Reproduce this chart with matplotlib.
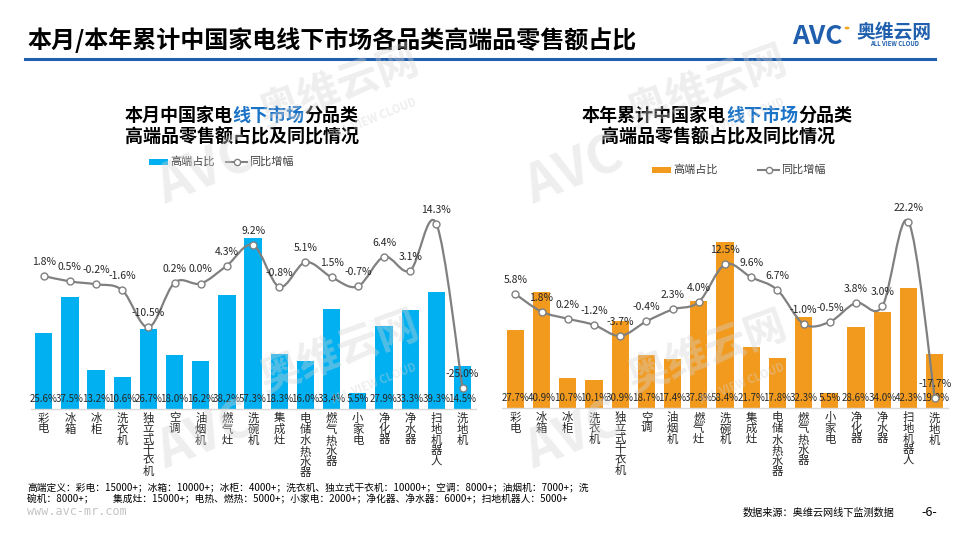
import numpy as np
import matplotlib
matplotlib.use('Agg')
import matplotlib.pyplot as plt
from matplotlib.path import Path
from matplotlib.patches import PathPatch, Rectangle, Circle
from matplotlib.lines import Line2D

plt.rcParams['font.family'] = ['Noto Sans CJK SC', 'DejaVu Sans']

# ---------------- data ----------------
categories = ['彩电', '冰箱', '冰柜', '洗衣机', '独立式干衣机', '空调', '油烟机', '燃气灶',
              '洗碗机', '集成灶', '电储水热水器', '燃气热水器', '小家电', '净化器', '净水器',
              '扫地机器人', '洗地机']
month_share = [25.6, 37.5, 13.2, 10.6, 26.7, 18.0, 16.2, 38.2, 57.3, 18.3, 16.0, 33.4, 5.5,
               27.9, 33.3, 39.3, 14.5]
month_yoy = [1.8, 0.5, -0.2, -1.6, -10.5, 0.2, 0.0, 4.3, 9.2, -0.8, 5.1, 1.5, -0.7, 6.4, 3.1,
             14.3, -25.0]
year_share = [27.7, 40.9, 10.7, 10.1, 30.9, 18.7, 17.4, 37.8, 58.4, 21.7, 17.8, 32.3, 5.5,
              28.6, 34.0, 42.3, 19.0]
year_yoy = [5.8, 1.8, 0.2, -1.2, -3.7, -0.4, 2.3, 4.0, 12.5, 9.6, 6.7, -1.0, -0.5, 3.8, 3.0,
            22.2, -17.7]
legend_labels = ['高端占比', '同比增幅']
main_title = '本月/本年累计中国家电线下市场各品类高端品零售额占比'
left_title = [('本月中国家电', '线下市场', '分品类'), '高端品零售额占比及同比情况']
right_title = [('本年累计中国家电', '线下市场', '分品类'), '高端品零售额占比及同比情况']
note_lines = ['高端定义：彩电：15000+；冰箱：10000+；冰柜：4000+；洗衣机、独立式干衣机：10000+；空调：8000+；油烟机：7000+；洗',
              '碗机：8000+；　　集成灶：15000+；电热、燃热：5000+；小家电：2000+；净化器、净水器：6000+；扫地机器人：5000+']
source_text = '数据来源：奥维云网线下监测数据'
page_text = '-6-'
site_text = 'www.avc-mr.com'

BLUE_BAR = '#00B0F0'
ORANGE_BAR = '#F29A1E'
LINE_GRAY = '#808080'
TITLE_BLUE = '#1a73c7'
LOGO_BLUE = '#1f5fad'

W, H = 960, 540
fig = plt.figure(figsize=(9.6, 5.4), dpi=100)


def fx(px):
    return px / W


def fy(py):
    return 1 - py / H


def smooth_path(x, y):
    x = np.asarray(x, float)
    y = np.asarray(y, float)
    n = len(x)
    verts = [(x[0], y[0])]
    codes = [Path.MOVETO]
    for i in range(n - 1):
        xp, yp = (x[i - 1], y[i - 1]) if i > 0 else (x[i], y[i])
        xn, yn = (x[i + 2], y[i + 2]) if i + 2 < n else (x[i + 1], y[i + 1])
        c1 = (x[i] + (x[i + 1] - xp) / 6, y[i] + (y[i + 1] - yp) / 6)
        c2 = (x[i + 1] - (xn - x[i]) / 6, y[i + 1] - (yn - y[i]) / 6)
        verts += [c1, c2, (x[i + 1], y[i + 1])]
        codes += [Path.CURVE4] * 3
    return Path(verts, codes)


def draw_chart(left_px, right_px, top_px, base_px, bar_scale, zero_px, line_scale,
               share, yoy, color):
    ax = fig.add_axes([fx(left_px), fy(base_px), (right_px - left_px) / W,
                       (base_px - top_px) / H])
    x = np.arange(len(categories))
    ax.bar(x, share, width=0.66, color=color, zorder=2)
    ax.set_xlim(-0.5, len(categories) - 0.5)
    ax.set_ylim(0, (base_px - top_px) / bar_scale)
    for s in ['top', 'right', 'left']:
        ax.spines[s].set_visible(False)
    ax.spines['bottom'].set_color('#d9d9d9')
    ax.spines['bottom'].set_linewidth(1.0)
    ax.set_yticks([])
    ax.set_xticks(x, ['\n'.join(c) for c in categories], fontsize=8.2, linespacing=1.0)
    ax.tick_params(axis='x', length=0, pad=3, colors='#262626')
    ax.patch.set_alpha(0)
    for xi, v in zip(x, share):
        ax.annotate(f'{v:.1f}%', xy=(xi, 0), xytext=(0, 10.5), textcoords='offset pixels',
                    ha='center', va='center', fontsize=7, color='#262626')

    ax2 = ax.twinx()
    ax2.set_ylim(-(base_px - zero_px) / line_scale, (zero_px - top_px) / line_scale)
    ax2.set_yticks([])
    for s in ax2.spines.values():
        s.set_visible(False)
    ax2.add_patch(PathPatch(smooth_path(x, yoy), facecolor='none', edgecolor=LINE_GRAY,
                            lw=1.6, zorder=3))
    ax2.plot(x, yoy, 'o', ms=5, mfc='white', mec=LINE_GRAY, mew=1.0, zorder=4)
    for xi, v in zip(x, yoy):
        ax2.annotate(f'{v:.1f}%', xy=(xi, v), xytext=(0, 14), textcoords='offset pixels',
                     ha='center', va='center', fontsize=7.5, color='#262626')
    return ax, ax2


def title_block(center_px, lines, y1, y2, size=13):
    em = size * 100 / 72
    segs = lines[0]
    total = sum(len(s) for s in segs) * em
    x0 = center_px - total / 2
    cols = ['black', TITLE_BLUE, 'black']
    for s, c in zip(segs, cols):
        fig.text(fx(x0), fy(y1), s, ha='left', va='center', fontsize=size,
                 fontweight='bold', color=c)
        x0 += len(s) * em
    fig.text(fx(center_px), fy(y2), lines[1], ha='center', va='center', fontsize=size,
             fontweight='bold', color='black')


def legend_block(x_patch, x_line, y, color):
    fig.patches.append(Rectangle((fx(x_patch), fy(y + 2.5)), 19 / W, 5 / H,
                                 transform=fig.transFigure, facecolor=color,
                                 edgecolor='none'))
    fig.text(fx(x_patch + 21), fy(y), legend_labels[0], ha='left', va='center',
             fontsize=8, color='#404040')
    fig.lines.append(Line2D([fx(x_line), fx(x_line + 21)], [fy(y), fy(y)],
                            transform=fig.transFigure, color=LINE_GRAY, lw=1.5))
    fig.lines.append(Line2D([fx(x_line + 10.5)], [fy(y)], transform=fig.transFigure,
                            marker='o', ms=4.5, mfc='white', mec=LINE_GRAY, mew=1))
    fig.text(fx(x_line + 23), fy(y), legend_labels[1], ha='left', va='center',
             fontsize=8, color='#404040')


# ---------------- watermarks ----------------
WM_COLOR = '#d4d4d4'
WM_ALPHA = 0.38


def watermark(x0, y0):
    fig.text(fx(x0), fy(y0), 'AVC', ha='left', va='baseline', rotation=22,
             rotation_mode='anchor', fontsize=38, fontweight='bold', style='italic',
             color=WM_COLOR, alpha=WM_ALPHA, zorder=10)
    fig.text(fx(x0 + 100), fy(y0 - 78), '奥维云网', ha='left', va='baseline', rotation=20,
             rotation_mode='anchor', fontsize=30, fontweight='bold',
             color=WM_COLOR, alpha=WM_ALPHA, zorder=10)
    fig.text(fx(x0 + 168), fy(y0 - 66), 'ALL VIEW CLOUD', ha='left', va='baseline',
             rotation=22, rotation_mode='anchor', fontsize=8, fontweight='bold',
             color=WM_COLOR, alpha=WM_ALPHA, zorder=10)


# ---------------- header ----------------
fig.text(fx(27), fy(40), main_title, ha='left', va='center', fontsize=17.3,
         fontweight='bold', color='black')
fig.lines.append(Line2D([fx(25), fx(935)], [fy(59), fy(59)], transform=fig.transFigure,
                        color=LOGO_BLUE, lw=2.2))
fig.text(fx(792), fy(37), 'AVC', ha='left', va='center', fontsize=19, fontweight='bold',
         style='italic', color=LOGO_BLUE)
fig.patches.append(Circle((fx(847), fy(28)), 2.5 / W, transform=fig.transFigure,
                          facecolor='#f5a623', edgecolor='none'))
fig.text(fx(856), fy(32), '奥维云网', ha='left', va='center', fontsize=13.5,
         fontweight='bold', color=LOGO_BLUE)
fig.text(fx(870), fy(43.5), 'ALL VIEW CLOUD', ha='left', va='center', fontsize=4.3,
         fontweight='bold', color=LOGO_BLUE)

# ---------------- charts ----------------
draw_chart(30.6, 475.6, 200, 409, 2.98, 283.5, 4.18, month_share, month_yoy, BLUE_BAR)
draw_chart(502.2, 947.8, 200, 408.3, 2.84, 319.6, 4.41, year_share, year_yoy, ORANGE_BAR)

title_block(241.5, left_title, 115, 137)
title_block(717.5, right_title, 115, 137)
legend_block(149, 226, 162, BLUE_BAR)
legend_block(652, 758, 170, ORANGE_BAR)

# ---------------- footer ----------------
fig.text(fx(27), fy(487), note_lines[0], ha='left', va='center', fontsize=7, color='black')
fig.text(fx(27), fy(499.5), note_lines[1], ha='left', va='center', fontsize=7, color='black')
fig.text(fx(27), fy(511.5), site_text, ha='left', va='center', fontsize=8.5,
         family='DejaVu Sans Mono', color='#c4c4c4')
fig.text(fx(743), fy(512.5), source_text, ha='left', va='center', fontsize=7.3,
         color='black')
fig.text(fx(929), fy(512.5), page_text, ha='center', va='center', fontsize=9,
         color='black')

for wx, wy in [(165, 205), (533, 205), (165, 470), (533, 470)]:
    watermark(wx, wy)

fig.savefig('out.png', dpi=100)
